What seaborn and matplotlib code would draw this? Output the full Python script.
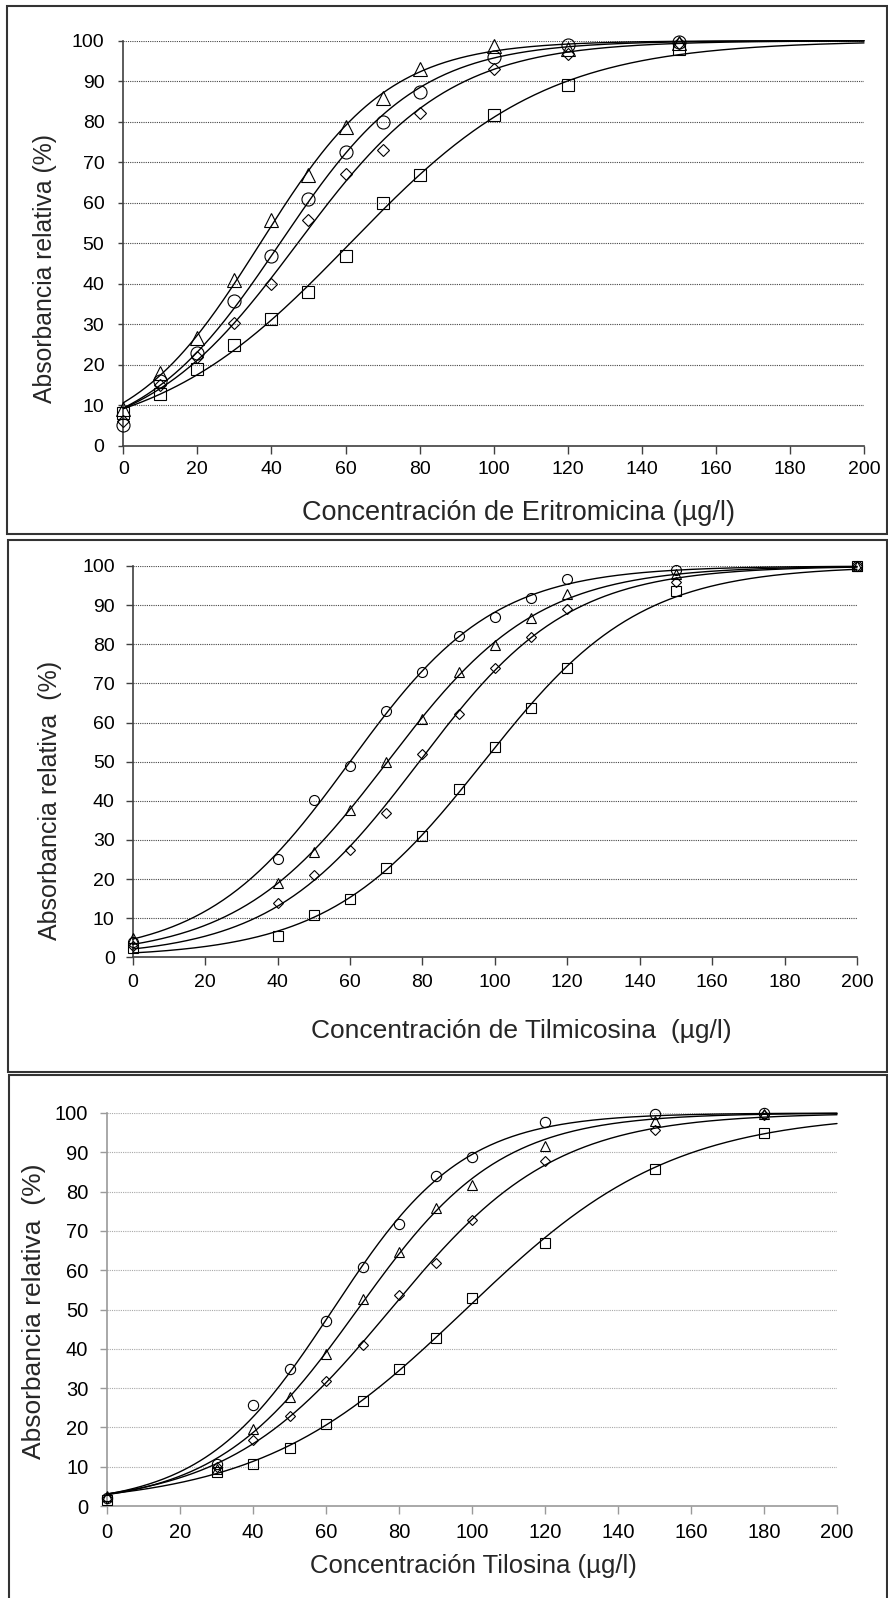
import numpy as np
import matplotlib
matplotlib.use("Agg")
import matplotlib.pyplot as plt
from matplotlib.patches import Rectangle
import seaborn as sns

sns.set_style("white")
plt.rcParams["font.family"] = ["Liberation Sans", "DejaVu Sans"]

# ---- Eritromicina -------------------------------------------------------
ery_x = [0, 10, 20, 30, 40, 50, 60, 70, 80, 100, 120, 150]
ery_triangle = [9, 18, 26.6, 40.8, 55.8, 66.9, 78.8, 85.8, 92.9, 98.6, 98, 99.5]
ery_circle = [5, 15.9, 22.9, 35.8, 46.9, 61, 72.4, 80, 87.3, 96, 99, 99.8]
ery_diamond = [6, 14.9, 21.9, 30.3, 40, 55.8, 67.1, 73, 82.1, 93, 96.7, 99.5]
ery_square = [8, 12.8, 19, 24.8, 31.3, 38, 46.9, 59.9, 66.9, 81.7, 89, 97.9]

# ---- Tilmicosina --------------------------------------------------------
til_x = [0, 40, 50, 60, 70, 80, 90, 100, 110, 120, 150, 200]
til_circle = [4, 25.1, 40.1, 49, 63, 72.9, 82, 87, 91.9, 96.8, 98.9, 100]
til_triangle = [5, 18.9, 26.9, 37.7, 49.8, 60.9, 72.9, 79.7, 86.7, 92.9, 97.9, 100]
til_diamond = [3, 14, 21.1, 27.5, 37, 52, 62.2, 73.9, 81.9, 88.9, 96, 100]
til_square = [2.5, 5.5, 10.9, 14.9, 22.9, 31, 42.9, 53.7, 63.6, 73.9, 93.7, 100]

# ---- Tilosina -----------------------------------------------------------
tyl_x = [0, 30, 40, 50, 60, 70, 80, 90, 100, 120, 150, 180]
tyl_circle = [2, 10.8, 25.8, 34.9, 47.2, 60.7, 71.8, 83.9, 88.9, 97.8, 99.8, 100]
tyl_triangle = [2.5, 9.5, 19.7, 27.8, 38.7, 52.7, 64.7, 75.8, 81.7, 91.7, 98, 99.8]
tyl_diamond = [2, 10, 16.7, 22.9, 31.8, 41, 53.7, 61.8, 72.8, 87.8, 95.6, 99.6]
tyl_square = [1.5, 8.7, 10.8, 14.8, 20.8, 26.8, 34.8, 42.8, 53, 67, 85.8, 94.8]

x_ticks = [0, 20, 40, 60, 80, 100, 120, 140, 160, 180, 200]
y_ticks = [0, 10, 20, 30, 40, 50, 60, 70, 80, 90, 100]

label_ery_x = "Concentración de Eritromicina (µg/l)"
label_til_x = "Concentración de Tilmicosina  (µg/l)"
label_tyl_x = "Concentración Tilosina (µg/l)"
label_ery_y = "Absorbancia relativa (%)"
label_til_y = "Absorbancia relativa  (%)"
label_tyl_y = "Absorbancia relativa  (%)"


def logistic(x, k, x50):
    return 100.0 / (1.0 + np.exp(-k * (np.asarray(x, float) - x50)))


def fit_logistic(x, y):
    """Least-squares fit of a 0-100 logistic (Gauss-Newton with step halving)."""
    x = np.asarray(x, float)
    y = np.asarray(y, float)
    x50 = np.interp(50, np.maximum.accumulate(y), x)
    p = np.array([0.05, x50])
    sse = np.sum((y - logistic(x, *p)) ** 2)
    for _ in range(300):
        e = np.exp(-p[0] * (x - p[1]))
        g = 100 * e / (1 + e) ** 2
        J = np.column_stack([g * (x - p[1]), -g * p[0]])
        r = y - logistic(x, *p)
        step = np.linalg.lstsq(J, r, rcond=None)[0]
        t = 1.0
        while t > 1e-6:
            cand = p + t * step
            c_sse = np.sum((y - logistic(x, *cand)) ** 2)
            if c_sse < sse:
                p, sse = cand, c_sse
                break
            t *= 0.5
        else:
            break
    return p


W, H = 888, 1598
fig = plt.figure(figsize=(W / 100, H / 100), dpi=100)


def px_rect(left, top, right, bottom):
    return [left / W, 1 - bottom / H, (right - left) / W, (bottom - top) / H]


# panel frames
for (l, t, r, b) in [(7, 6, 887, 534), (8, 540, 887, 1072), (9, 1075, 887, 1610)]:
    fig.add_artist(Rectangle((l / W, 1 - b / H), (r - l) / W, (b - t) / H,
                             transform=fig.transFigure, fill=False,
                             lw=1.5, ec="#333333"))

panels = [
    dict(rect=(123.3, 40.7, 864, 445.7), x=ery_x,
         series=[("^", ery_triangle), ("o", ery_circle), ("D", ery_diamond), ("s", ery_square)],
         msize={"^": 9.6, "o": 9.4, "D": 6.2, "s": 8.0},
         spine="#404040", grid="#454545", tick_fs=14, ylen=3.6, xlen=5.5,
         ypad=10, xpad=5.5,
         xlabel=(label_ery_x, 518, 513, 19.5), ylabel=(label_ery_y, 45, 268.6, 17.8)),
    dict(rect=(132.7, 566, 857, 957.3), x=til_x,
         series=[("o", til_circle), ("^", til_triangle), ("D", til_diamond), ("s", til_square)],
         msize={"^": 7.8, "o": 7.2, "D": 4.8, "s": 7.2},
         spine="#404040", grid="#454545", tick_fs=14, ylen=5, xlen=6,
         ypad=8, xpad=6,
         xlabel=(label_til_x, 521, 1031, 19), ylabel=(label_til_y, 50, 800, 18)),
    dict(rect=(107, 1113, 837, 1506), x=tyl_x,
         series=[("o", tyl_circle), ("^", tyl_triangle), ("D", tyl_diamond), ("s", tyl_square)],
         msize={"^": 7.4, "o": 7.4, "D": 5.0, "s": 7.2},
         spine="#9a9a9a", grid="#a8a8a8", tick_fs=14.5, ylen=5, xlen=6,
         ypad=8.5, xpad=6.5,
         xlabel=(label_tyl_x, 473, 1566, 18.5), ylabel=(label_tyl_y, 34, 1311, 19)),
]

x_curve = np.linspace(0, 200, 401)

for pan in panels:
    ax = fig.add_axes(px_rect(*pan["rect"]))
    ax.set_xlim(0, 200)
    ax.set_ylim(0, 100)

    for marker, yvals in pan["series"]:
        k, x50 = fit_logistic(pan["x"], yvals)
        sns.lineplot(x=x_curve, y=logistic(x_curve, k, x50), color="black",
                     lw=1.0, ax=ax, clip_on=False, zorder=3)
        sns.lineplot(x=pan["x"], y=yvals, marker=marker, linestyle="",
                     markersize=pan["msize"][marker], markerfacecolor="none",
                     markeredgecolor="black", markeredgewidth=0.8,
                     color="black", ax=ax, clip_on=False, zorder=4)

    ax.set_xticks(x_ticks)
    ax.set_yticks(y_ticks)
    ax.set_xticklabels([str(v) for v in x_ticks])
    ax.set_yticklabels([str(v) for v in y_ticks])
    ax.set_xlabel("")
    ax.set_ylabel("")

    ax.grid(False)
    ax.yaxis.grid(True, linestyle=(0, (1, 1)), color=pan["grid"], lw=0.8)
    ax.set_axisbelow(True)
    for side in ("top", "right"):
        ax.spines[side].set_visible(False)
    for side in ("left", "bottom"):
        ax.spines[side].set_color(pan["spine"])
        ax.spines[side].set_linewidth(1.2)
        ax.spines[side].set_zorder(2)

    ax.tick_params(axis="y", direction="out", length=pan["ylen"], width=1.0,
                   color=pan["spine"], labelsize=pan["tick_fs"], pad=pan["ypad"],
                   labelcolor="black", left=True)
    ax.tick_params(axis="x", direction="out", length=pan["xlen"], width=1.0,
                   color=pan["spine"], labelsize=pan["tick_fs"], pad=pan["xpad"],
                   labelcolor="black", bottom=True)

    txt, cx, cy, fs = pan["xlabel"]
    fig.text(cx / W, 1 - cy / H, txt, ha="center", va="center", fontsize=fs)
    txt, cx, cy, fs = pan["ylabel"]
    fig.text(cx / W, 1 - cy / H, txt, ha="center", va="center", fontsize=fs,
             rotation=90)

fig.savefig("out.png", dpi=100)
